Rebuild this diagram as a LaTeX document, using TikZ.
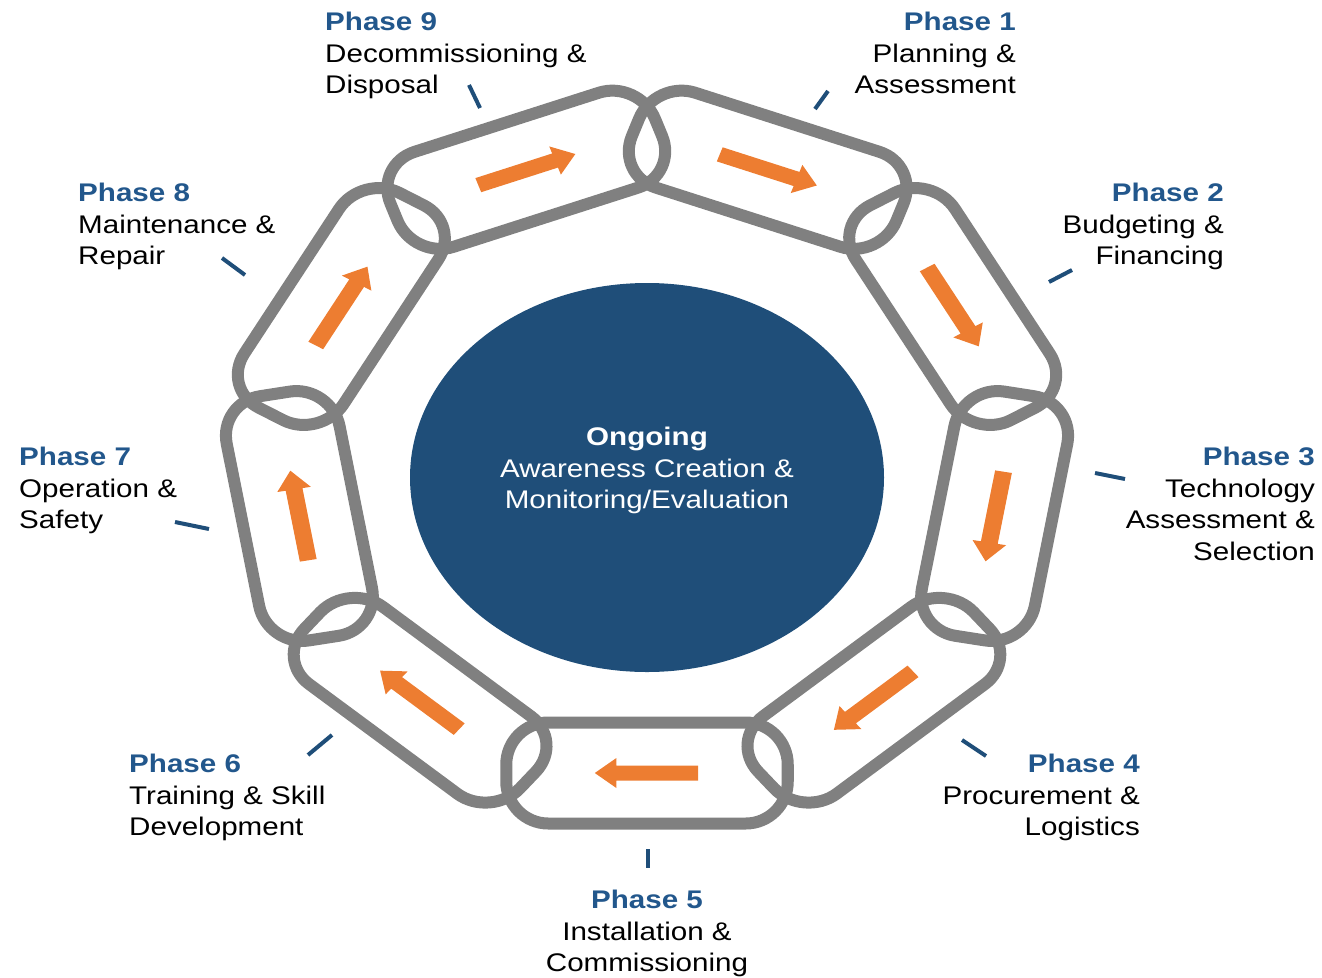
\documentclass[tikz,border=0pt]{standalone}
\usepackage{fontspec}
\setmainfont{Liberation Sans}[FakeStretch=1.16]
\usetikzlibrary{shapes.geometric}
\definecolor{chaingray}{HTML}{808080}
\definecolor{flowor}{HTML}{ED7D31}
\definecolor{hubblue}{HTML}{1F4E79}
\definecolor{phaseblue}{HTML}{22578C}
\definecolor{tickblue}{HTML}{1F4E79}
\begin{document}
\begin{tikzpicture}[x=1pt,y=1pt,
  link/.style={draw=chaingray, line width=12pt, rounded corners=42pt},
  flow/.style={fill=flowor},
  tickmark/.style={draw=tickblue, line width=4pt},
  phase/.style={inner sep=0pt, font=\fontsize{25.5}{31.6}\selectfont},
  hubtext/.style={inner sep=0pt, text=white, align=center, font=\fontsize{25.5}{31.5}\selectfont},
]
\useasboundingbox (0,0) rectangle (1322,-977);

% central hub
\node[ellipse, fill=hubblue, inner sep=0pt, minimum width=474pt, minimum height=389pt] (hub) at (647,-477.5) {};
\node[hubtext, anchor=north] (hubtxt) at (647,-427) {\textbf{Ongoing}\\Awareness Creation \&\\Monitoring/Evaluation};

% chain of nine links, clockwise from the top right
\foreach \k in {1,...,9} {
  \pgfmathsetmacro\th{70-40*(\k-1)}
  \pgfmathsetmacro\cx{647+1.135*311*cos(\th)}
  \pgfmathsetmacro\cy{-462+311*sin(\th)}
  \begin{scope}[xshift=\cx pt, yshift=\cy pt, xscale=1.135, rotate=\th-90]
    \draw[link] (-124,-50.5) -- (124,-50.5) -- (124,50.5) -- (-124,50.5) -- cycle;
    \fill[flow] (-45,-7.5) -- (27,-7.5) -- (27,-15) -- (46,0) -- (27,15) -- (27,7.5) -- (-45,7.5) -- cycle;
  \end{scope}
}

% leader ticks
\draw[tickmark] (815,-109) -- (828,-91);
\draw[tickmark] (1049,-282) -- (1072,-270);
\draw[tickmark] (1095,-473) -- (1125,-479);
\draw[tickmark] (962,-740) -- (986,-756);
\draw[tickmark] (648,-849) -- (648,-868);
\draw[tickmark] (308,-755) -- (332,-735);
\draw[tickmark] (175,-522) -- (209,-529);
\draw[tickmark] (222,-258) -- (245,-275);
\draw[tickmark] (469,-85) -- (480,-108);

% phase labels
\node[phase, anchor=north east, align=right] (p1) at (1016,-12) {\textcolor{phaseblue}{\textbf{Phase 1}}\\Planning \&\\Assessment};
\node[phase, anchor=north east, align=right] (p2) at (1224,-183) {\textcolor{phaseblue}{\textbf{Phase 2}}\\Budgeting \&\\Financing};
\node[phase, anchor=north east, align=right] (p3) at (1315,-447) {\textcolor{phaseblue}{\textbf{Phase 3}}\\Technology\\Assessment \&\\Selection};
\node[phase, anchor=north east, align=right] (p4) at (1140,-754) {\textcolor{phaseblue}{\textbf{Phase 4}}\\Procurement \&\\Logistics};
\node[phase, anchor=north, align=center] (p5) at (647,-890) {\textcolor{phaseblue}{\textbf{Phase 5}}\\Installation \&\\Commissioning};
\node[phase, anchor=north west, align=left] (p6) at (129,-754) {\textcolor{phaseblue}{\textbf{Phase 6}}\\Training \& Skill\\Development};
\node[phase, anchor=north west, align=left] (p7) at (19,-447) {\textcolor{phaseblue}{\textbf{Phase 7}}\\Operation \&\\Safety};
\node[phase, anchor=north west, align=left] (p8) at (78,-183) {\textcolor{phaseblue}{\textbf{Phase 8}}\\Maintenance \&\\Repair};
\node[phase, anchor=north west, align=left] (p9) at (325,-12) {\textcolor{phaseblue}{\textbf{Phase 9}}\\Decommissioning \&\\Disposal};
\end{tikzpicture}
\end{document}
